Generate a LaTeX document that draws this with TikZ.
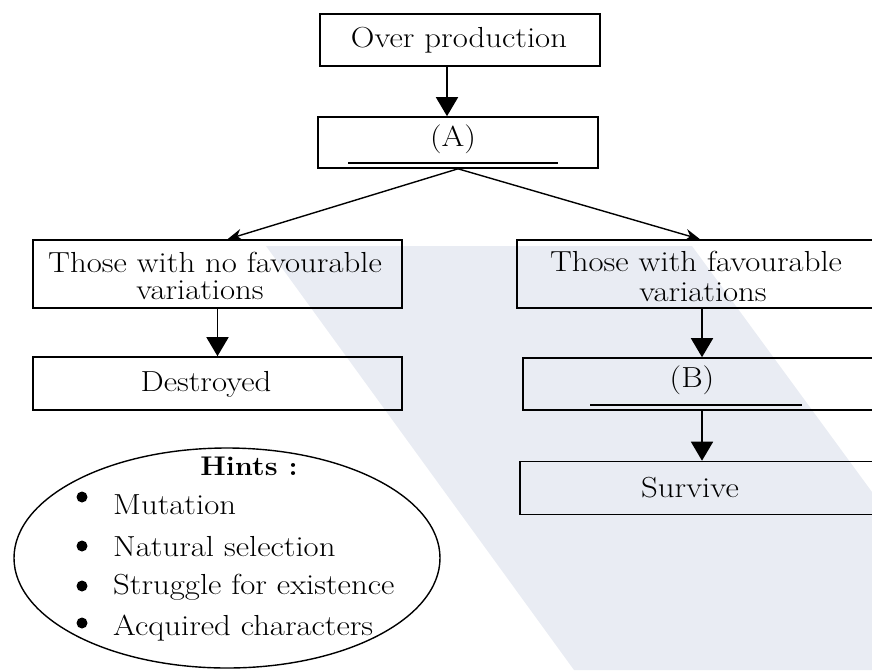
\documentclass[tikz,border=0pt]{standalone}
\usetikzlibrary{arrows.meta,shapes.geometric}
\definecolor{wm}{RGB}{233,236,243}
\tikzset{
  box/.style={draw, line width=1.6pt, minimum height=52pt, inner sep=0pt},
  txt/.style={font=\fontsize{29}{34}\selectfont, inner sep=0pt, xscale=1.13, transform shape},
  down/.style={line width=1.7pt, -{Triangle[length=19pt,width=22pt]}},
  diag/.style={line width=1.4pt, -{Stealth[length=15pt,width=12pt]}},
  uline/.style={line width=1.6pt}
}
\begin{document}
\begin{tikzpicture}[x=1pt,y=-1pt]
\useasboundingbox (0,0) rectangle (872,670);
% watermark band
\fill[wm] (266,246) -- (692,246) -- (872,492) -- (872,670) -- (574,670) -- cycle;
\begin{scope}
\clip (0,0) rectangle (872,670);
% boxes
\node[box, minimum width=280pt] (op) at (460,40) {};
\node[txt] (opt) at (459,40) {Over production};
\node[box, minimum width=280pt, minimum height=51pt] (A) at (458,142.5) {};
\node[txt] (At) at (453,139) {(A)};
\node[box, minimum width=369pt, minimum height=68pt] (L1) at (217.5,274) {};
\node[txt] (L1a) at (215,262) {Those with no favourable};
\node[txt] (L1b) at (200,290) {variations};
\node[box, minimum width=369pt, minimum height=53pt] (D) at (217.5,383.5) {};
\node[txt] (Dt) at (206,384) {Destroyed};
\node[box, minimum width=370pt, minimum height=68pt] (R1) at (702,274) {};
\node[txt] (R1a) at (696,261) {Those with favourable};
\node[txt] (R1b) at (703,292) {variations};
\node[box, minimum width=364pt, minimum height=52pt] (B) at (705,384) {};
\node[txt] (Bt) at (692,380) {(B)};
\node[box, minimum width=366pt, minimum height=53pt] (S) at (703,488) {};
\node[txt] (St) at (690,488) {Survive};
\end{scope}
% underlines
\draw[uline] ([xshift=-110pt,yshift=6pt]A.south) -- ([xshift=100pt,yshift=6pt]A.south);
\draw[uline] ([xshift=-115pt,yshift=6pt]B.south) -- ([xshift=97pt,yshift=6pt]B.south);
% connectors
\draw[down] ([xshift=-13pt]op.south) -- ([xshift=-11pt]A.north);
\draw[diag] (A.south) -- ([xshift=10pt]L1.north);
\draw[diag] (A.south) -- ([xshift=-2pt]R1.north);
\draw[down] (L1.south) -- (D.north);
\draw[down] (R1.south) -- ([xshift=-3pt]B.north);
\draw[down] ([xshift=-3pt]B.south) -- ([xshift=-1pt]S.north);
% hints ellipse
\node[ellipse, draw, line width=1.4pt, minimum width=426pt, minimum height=220pt, inner sep=0pt] (H) at (227,558) {};
\node[txt, font=\bfseries\fontsize{27}{30}\selectfont, xscale=0.95] (Ht) at (249,466) {Hints :};
\foreach \y/\by/\t [count=\i] in {505/497/Mutation, 547/546/Natural selection, 587/586/Struggle for existence, 628/623/Acquired characters}{
  \fill (82,\by) circle (5.5pt);
  \node[txt, anchor=west] (h\i) at (113,\y) {\t};
}
\end{tikzpicture}
\end{document}
